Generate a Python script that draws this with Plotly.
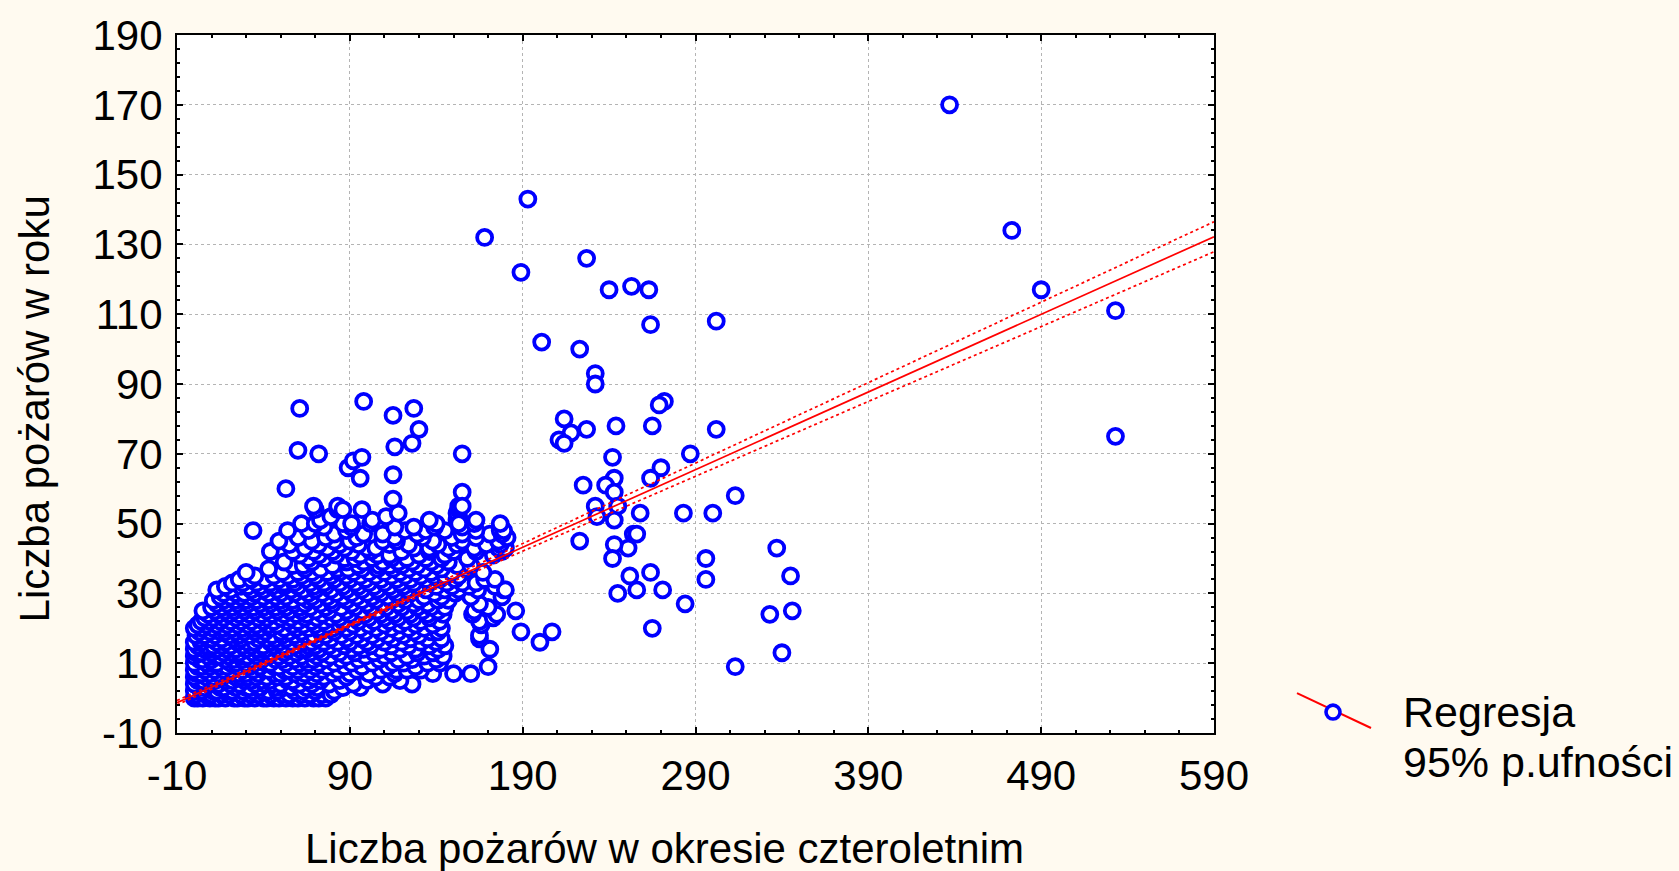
import plotly.graph_objects as go

# ---- data: fires per year vs fires in the four-year period ----
# dense group of stations, stored as (fires per year, [four-year counts...]) rows
rows_low = [
    (0, [0, 2, 5, 9, 12, 14, 18, 23, 25, 29, 31, 35, 40, 42, 46, 49, 53, 57, 60, 64, 69, 72, 76]),
    (1, [1, 7, 10, 16, 20, 27, 33, 37, 44, 51, 55, 62, 67, 74, 79]),
    (2, [0, 4, 11, 13, 19, 22, 28, 34, 39, 43, 48, 58, 63, 70, 81]),
    (3, [3, 6, 15, 17, 24, 30, 32, 38, 47, 52, 56, 65, 71, 86, 96]),
    (4, [0, 8, 10, 14, 21, 26, 35, 41, 45, 50, 59, 61, 68, 78, 92, 109, 126]),
    (5, [2, 5, 12, 18, 22, 29, 33, 39, 44, 54, 57, 66, 73, 84, 100, 119]),
    (6, [0, 7, 11, 16, 24, 27, 31, 36, 42, 48, 53, 62, 69, 75, 88, 105, 113]),
    (7, [1, 4, 9, 14, 20, 26, 30, 37, 46, 50, 58, 64, 71, 80, 90, 101, 116, 138, 150, 160]),
    (8, [0, 6, 12, 17, 22, 28, 34, 40, 43, 52, 55, 60, 67, 74, 83, 94, 108, 117, 123, 131]),
    (9, [2, 5, 9, 15, 19, 25, 32, 38, 46, 49, 57, 63, 70, 77, 87, 97, 112, 128, 170]),
    (10, [0, 7, 11, 13, 21, 24, 30, 35, 41, 44, 53, 61, 66, 72, 81, 91, 103, 115, 121, 135, 142]),
    (11, [3, 5, 10, 18, 23, 28, 33, 39, 47, 51, 58, 64, 69, 76, 85, 95, 107, 118, 126, 140]),
    (12, [0, 8, 12, 15, 20, 27, 31, 36, 43, 49, 55, 62, 71, 79, 88, 99, 110, 123, 133, 144]),
    (13, [1, 4, 10, 17, 22, 26, 34, 38, 45, 52, 59, 67, 74, 84, 93, 104, 114, 129, 138]),
    (14, [0, 6, 9, 13, 19, 24, 30, 37, 41, 48, 54, 61, 65, 72, 81, 91, 98, 108, 119, 128, 141, 171]),
]
rows_mid = [
    (15, [2, 7, 11, 16, 21, 28, 33, 40, 46, 51, 58, 66, 70, 78, 87, 95, 102, 114, 124, 136, 145]),
    (16, [0, 4, 13, 18, 25, 31, 35, 44, 49, 56, 63, 68, 75, 83, 90, 100, 110, 120, 131, 140]),
    (17, [3, 8, 10, 16, 23, 27, 37, 42, 47, 53, 60, 71, 79, 88, 97, 106, 115, 125, 135, 143, 165]),
    (18, [1, 6, 12, 20, 26, 32, 39, 45, 51, 58, 64, 69, 76, 85, 94, 103, 112, 121, 130, 165]),
    (19, [3, 9, 15, 18, 24, 29, 35, 41, 50, 55, 62, 73, 81, 90, 99, 108, 118, 127, 137, 141]),
    (20, [0, 5, 11, 17, 22, 28, 34, 38, 44, 52, 59, 66, 72, 80, 88, 96, 105, 114, 124, 133, 143]),
    (21, [2, 7, 13, 19, 25, 31, 36, 43, 48, 57, 63, 70, 77, 84, 92, 101, 110, 119, 128, 138, 166]),
    (22, [4, 9, 15, 21, 27, 33, 40, 46, 54, 60, 68, 75, 86, 95, 104, 113, 122, 131, 142, 165]),
    (23, [6, 11, 17, 24, 30, 37, 42, 50, 56, 64, 71, 79, 84, 93, 101, 110, 118, 127, 136, 173]),
    (24, [8, 14, 20, 26, 32, 39, 45, 52, 59, 65, 74, 82, 90, 99, 108, 116, 125, 135, 144, 161, 175]),
    (25, [5, 12, 18, 23, 29, 35, 42, 48, 55, 62, 70, 78, 88, 97, 106, 114, 123, 132, 141, 162]),
    (26, [10, 16, 22, 28, 34, 40, 47, 53, 61, 67, 76, 85, 93, 102, 111, 120, 129, 137, 145, 170]),
    (27, [13, 19, 25, 31, 38, 44, 51, 58, 64, 73, 80, 91, 100, 109, 118, 127, 135, 165]),
    (28, [11, 17, 24, 30, 36, 43, 50, 57, 66, 70, 79, 88, 97, 105, 114, 122, 130, 141, 147]),
    (29, [15, 21, 27, 33, 40, 47, 53, 62, 68, 77, 86, 94, 103, 112, 120, 133, 143, 160, 178]),
]
rows_high = [
    (30, [17, 24, 29, 35, 43, 50, 58, 66, 74, 82, 91, 100, 108, 117, 125, 139, 151]),
    (31, [13, 21, 33, 40, 48, 56, 63, 70, 79, 88, 97, 106, 115, 123, 134, 145, 153, 164, 179]),
    (32, [18, 27, 31, 38, 45, 52, 60, 69, 76, 86, 95, 104, 113, 121, 129, 140, 149, 159, 174]),
    (33, [22, 28, 36, 44, 52, 58, 67, 75, 84, 93, 101, 110, 119, 127, 136, 146, 155, 163]),
    (34, [26, 33, 41, 49, 57, 64, 72, 81, 90, 99, 108, 117, 125, 134, 142, 151, 168, 174]),
    (35, [35, 46, 54, 62, 70, 79, 88, 96, 105, 114, 122, 131, 139, 145, 153]),
    (36, [30, 51, 60, 68, 77, 84, 92, 101, 110, 119, 128, 137, 149, 167]),
    (37, [43, 64, 73, 83, 89, 97, 106, 115, 124, 133, 143, 157]),
    (38, [57, 63, 80, 95, 107, 113, 120, 129, 140, 152, 160]),
    (39, [52, 68, 88, 98, 109, 118, 126, 137, 147]),
    (40, [66, 75, 87, 93, 103, 114, 123, 134, 143, 158]),
    (41, [61, 72, 82, 96, 106, 113, 130, 145, 173]),
    (42, [44, 57, 69, 80, 91, 102, 120, 136, 150, 163, 178]),
    (43, [64, 77, 87, 100, 105, 127, 136, 147, 162, 176, 180]),
    (44, [55, 72, 84, 95, 113, 124, 141, 152, 169, 177]),
    (45, [49, 68, 81, 90, 109, 117, 138, 155, 176]),
    (46, [60, 76, 94, 116, 132, 149, 163, 181]),
    (47, [81, 98, 109, 129, 155, 171, 178]),
    (48, [34, 54, 66, 88, 122, 134, 145, 163, 177, 179]),
    (49, [75, 91, 116, 127, 139, 155]),
    (50, [62, 70, 86, 91, 102, 140, 162, 177]),
    (51, [73, 103, 136, 152]),
    (52, [79, 111, 153]),
    (53, [118, 152]),
    (54, [70, 83, 97, 153]),
    (55, [69, 83, 153]),
]

# scattered stations outside the main group
outlier_x = [437, 473, 490, 533, 533, 193, 168, 189, 227, 240, 253, 263, 264, 302,
             201, 223, 232, 232, 272, 269, 214, 218, 211, 214, 227, 244, 265, 302,
             242, 287, 270, 264, 243, 225, 238, 243, 232, 245, 233, 243, 258, 283,
             300, 313, 254, 256, 251, 243, 242, 223, 296, 296, 337, 345, 346, 333,
             340, 313, 284, 265, 264, 252, 256, 271, 245, 207, 200, 189, 186, 180,
             115, 155, 53, 96, 115, 89, 92, 97, 60, 72, 155, 116, 126, 130, 115,
             61, 127, 98, 155, 153, 163, 86]
outlier_y = [170, 134, 117, 111, 75, 143, 132, 122, 126, 117, 118, 117, 107, 108,
             102, 100, 93, 90, 85, 84, 80, 76, 74, 73, 77, 78, 78, 77,
             69, 70, 66, 63, 63, 61, 61, 59, 55, 55, 52, 51, 53, 53,
             53, 58, 47, 47, 43, 44, 40, 45, 40, 34, 43, 35, 25, 24,
             13, 9, 27, 20, 36, 35, 31, 31, 30, 19, 16, 19, 25, 31,
             57, 59, 60, 63, 64, 66, 68, 69, 71, 70, 70, 72, 73, 77, 81,
             83, 83, 85, 55, 50, 51, 54]

# regression line with 95% confidence limits
reg_x = [-10, 90, 190, 290, 390, 490, 590]
reg_fit = [-1.3, 20.95, 43.2, 65.45, 87.7, 109.95, 132.2]
reg_upper = [-0.66, 21.34, 44.29, 67.34, 90.39, 113.44, 136.5]
reg_lower = [-1.94, 20.56, 42.11, 63.56, 85.01, 106.46, 127.9]

x_ticks = [-10, 90, 190, 290, 390, 490, 590]
y_ticks = [-10, 10, 30, 50, 70, 90, 110, 130, 150, 170, 190]

x_title = "Liczba pożarów w okresie czteroletnim"
y_title = "Liczba pożarów w roku"
legend_lines = ["Regresja", "95% p.ufności"]

# ---- assemble point arrays ----
pts_x, pts_y = [], []
for rows in (rows_low, rows_mid, rows_high):
    for yv, xs in rows:
        pts_x.extend(xs)
        pts_y.extend([yv] * len(xs))
pts_x.extend(outlier_x)
pts_y.extend(outlier_y)

FONT = "Liberation Sans, Arial, sans-serif"
BG = "#fffaf0"
BLUE = "#0000ff"
RED = "#ff0000"

W, H = 1679, 871
L, R, T, B = 177, 1214, 32, 733   # plot area in pixels


def px(x):
    return (x - L) / (R - L)


def py(y):
    return (B - y) / (B - T)


fig = go.Figure()
fig.add_trace(go.Scatter(
    x=pts_x, y=pts_y, mode="markers",
    marker=dict(symbol="circle", size=15, color="white",
                line=dict(color=BLUE, width=3.8)),
    showlegend=False, hoverinfo="x+y"))
for ys, dash in ((reg_upper, "dot"), (reg_lower, "dot"), (reg_fit, "solid")):
    fig.add_trace(go.Scatter(x=reg_x, y=ys, mode="lines",
                             line=dict(color=RED, width=1.7, dash=dash),
                             showlegend=False, hoverinfo="skip"))

axis_common = dict(
    showline=True, linecolor="black", linewidth=2, mirror="ticks",
    ticks="inside", ticklen=6, tickwidth=1.5, tickcolor="black",
    showgrid=True, gridcolor="#b4b4b4", gridwidth=1, griddash="dot",
    zeroline=False, tickfont=dict(family=FONT, size=42, color="black"),
)
fig.update_xaxes(range=[-10, 590], tickvals=x_ticks, ticktext=[str(v) for v in x_ticks],
                 minor=dict(dtick=20, tick0=-10, ticks="inside", ticklen=3, tickwidth=1.5,
                            tickcolor="black", showgrid=False),
                 ticklabelstandoff=5, **axis_common)
fig.update_yaxes(range=[-10, 190], tickvals=y_ticks, ticktext=[str(v) for v in y_ticks],
                 minor=dict(dtick=4, tick0=-10, ticks="inside", ticklen=3, tickwidth=1.5,
                            tickcolor="black", showgrid=False),
                 ticklabelstandoff=4, **axis_common)

annotations = [
    dict(x=px(664), y=py(849), xref="paper", yref="paper", text=x_title, showarrow=False,
         font=dict(family=FONT, size=42, color="black"), xanchor="center", yanchor="middle"),
    dict(x=px(34), y=py(408), xref="paper", yref="paper", text=y_title, showarrow=False,
         textangle=-90, font=dict(family=FONT, size=42, color="black"),
         xanchor="center", yanchor="middle"),
    dict(x=px(1401), y=py(712), xref="paper", yref="paper", text=legend_lines[0], showarrow=False,
         font=dict(family=FONT, size=43, color="black"), xanchor="left", yanchor="middle"),
    dict(x=px(1401), y=py(762), xref="paper", yref="paper", text=legend_lines[1], showarrow=False,
         font=dict(family=FONT, size=43, color="black"), xanchor="left", yanchor="middle"),
]

shapes = [
    dict(type="line", xref="paper", yref="paper", x0=px(1297), y0=py(693), x1=px(1371), y1=py(728),
         line=dict(color=RED, width=2)),
    dict(type="circle", xref="paper", yref="paper", x0=px(1326), y0=py(719), x1=px(1340), y1=py(705),
         line=dict(color=BLUE, width=3.6), fillcolor=BG),
]

fig.update_layout(
    width=W, height=H, autosize=False,
    margin=dict(l=L, r=W - R, t=T, b=H - B),
    paper_bgcolor=BG, plot_bgcolor="white",
    showlegend=False,
    annotations=annotations, shapes=shapes,
    font=dict(family=FONT, color="black"),
)

fig.write_html("out.html")
